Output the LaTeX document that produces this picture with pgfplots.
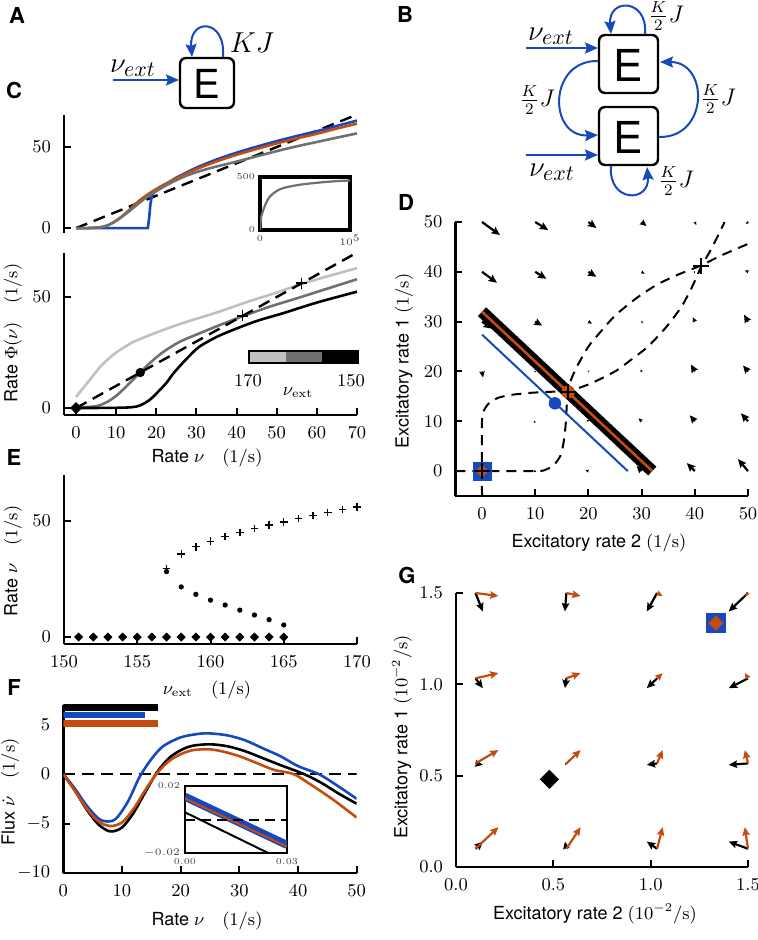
\documentclass[border=0pt]{standalone}
\usepackage{pgfplots}
\pgfplotsset{compat=1.18}
\usepackage{fontspec}
\newfontfamily\hv{TeX Gyre Heros}
\usetikzlibrary{arrows.meta}
\definecolor{mblue}{RGB}{22,72,190}
\definecolor{morange}{RGB}{196,76,14}
\definecolor{lgray}{RGB}{192,192,192}
\definecolor{mgray}{RGB}{112,112,112}
\newcommand{\lbl}{\fontsize{9}{11}\selectfont\hv}
\newcommand{\pl}{\fontsize{11}{13}\selectfont\hv\bfseries}
\pgfplotsset{
  base/.style={
    scale only axis, anchor=south west,
    axis lines*=left,
    axis line style={line width=1.2pt},
    tick align=inside,
    major tick length=3.5pt,
    every tick/.append style={black, line width=1pt},
    tick label style={font=\fontsize{9}{10}\selectfont},
    xticklabel style={yshift=-2.5pt},
    yticklabel style={xshift=-3pt},
    minor tick num=0,
  },
  ins/.style={
    scale only axis, anchor=south west,
    tick style={draw=none}, major tick length=0pt,
    tick label style={font=\fontsize{4.5}{5}\selectfont, text=black!75},
    scaled x ticks=false, scaled y ticks=false,
    axis background/.style={fill=white},
  },
  qv/.style={
    quiver={u=\thisrow{u}, v=\thisrow{v},
      every arrow/.append style={line width=1.1pt*\pgfplotspointmetatransformed/1000}},
    point meta=\thisrow{w}, point meta min=0, point meta max=1,
    -{Stealth[length=0pt 3.8, width=0pt 3.4, inset=0pt 0.6]},
  },
}
\begin{document}
\begin{tikzpicture}
\useasboundingbox (0,0) rectangle (379pt,-470pt);

% ---------------- C top
\begin{axis}[base, at={(32pt,-116.5pt)}, width=146.5pt, height=59.2pt,
  xmin=-3, xmax=70, ymin=-3, ymax=70, axis x line=none, axis y line*=left, ytick={0,50}]
\addplot[black, line width=1.2pt, dash pattern=on 6pt off 3.5pt] coordinates {(0,0) (70,70)};
\addplot[mblue, line width=1.3pt] coordinates {(0,0)(17.9,0)(18.2,6)(18.5,14)(18.8,19)(19.3,21.5)(20,23.2)(21,25)(22.5,27.3)(25,31.2)(27.5,34.3)(30,37.3)(32.5,39.9)(35,42.3)(37.5,44.5)(40,46.5)(43,48.8)(47,51.6)(51,54.3)(55,56.8)(59,59.2)(62,61)(66,63.7)(70,66.3)};
\addplot[morange, line width=1.3pt, smooth] coordinates {(0,0)(3,0.05)(5,0.3)(6.5,0.7)(8,1.8)(9.5,3.8)(11,6.4)(12.5,9.5)(14,13)(15.5,16.4)(17,19.3)(19,22.6)(21,25.6)(23,28.2)(25,30.8)(27.5,33.7)(30,36.4)(33,39.3)(36,42)(40,45.2)(44,48.1)(48,50.9)(52,53.5)(56,55.9)(60,58.2)(65,61.4)(70,64.4)};
\addplot[mgray, line width=1.3pt, smooth] coordinates {(0,0)(3,0.05)(5,0.3)(6.5,0.7)(8,1.8)(9.5,3.8)(11,6.2)(12.5,9)(14,12)(15.5,15)(17,18)(19,21.3)(21,24.3)(23,27.1)(25,29.6)(27.5,32.3)(30,34.5)(33,36.7)(36,38.6)(40,41)(44,43.6)(48,46.2)(52,48.7)(56,51)(60,53.1)(65,55.8)(70,58.4)};
\end{axis}
\begin{axis}[ins, at={(130pt,-115pt)}, width=45pt, height=26.5pt,
  xmin=0, xmax=100000, ymin=0, ymax=500, xtick={0,100000}, xticklabels={0,$10^5$},
  ytick={0,500}, yticklabels={0,500}, axis line style={line width=1.6pt},
  xticklabel style={yshift=1pt}, yticklabel style={xshift=1pt}]
\addplot[mgray, line width=1.1pt, smooth] coordinates {(0,0)(500,60)(1500,130)(3700,190)(7000,260)(11000,316)(18000,365)(26000,396)(44000,427)(65000,447)(82000,459)(100000,467)};
\end{axis}

% ---------------- C bottom
\begin{axis}[base, at={(32pt,-207.35pt)}, width=146.5pt, height=81.05pt,
  xmin=-3, xmax=70, ymin=-3, ymax=70, xtick={0,10,...,70}, ytick={0,50}]
\addplot[lgray, line width=1.3pt, smooth] coordinates {(0,5)(2,9.5)(4,14)(6,18.5)(8,22)(10,25)(14,29.5)(20,34)(27,38.5)(35,43)(43,48)(50,52)(56,55.8)(63,59.5)(70,63)};
\addplot[mgray, line width=1.3pt, smooth] coordinates {(0,0.3)(4,0.6)(6,1.3)(8,3)(10,5.5)(12,8.8)(14,12.4)(16,16)(18,19.6)(20,22.8)(22.4,26.1)(26,30)(30.7,33.6)(36,37.5)(41.5,41.3)(48,45.5)(55.7,49.8)(63,54)(70,58)};
\addplot[black, line width=1.3pt, smooth] coordinates {(0,0)(10,0.1)(14,0.4)(16,1.2)(18.3,3.6)(20,6.5)(22.4,11.1)(24,15)(25.7,18.6)(28,23)(30.7,27.6)(35,32)(39,35.1)(45,39.2)(51.4,42.6)(60,47.5)(70,52.4)};
\addplot[black, line width=1.2pt, dash pattern=on 6pt off 3.5pt] coordinates {(0,0) (70,70)};
\addplot[only marks, mark=square*, mark size=1.9pt, mark options={rotate=45}] coordinates {(0,0)};
\addplot[only marks, mark=*, mark size=2.1pt] coordinates {(16,16)};
\addplot[only marks, mark=+, mark size=2.8pt, mark options={line width=0.8pt}] coordinates {(41.5,41.5)(56.2,56.2)};
\end{axis}

% ---------------- E
\begin{axis}[base, at={(32pt,-322pt)}, width=146.5pt, height=84.7pt,
  xmin=150, xmax=170, ymin=-3, ymax=70, xtick={150,155,...,170}, ytick={0,50}]
\addplot[only marks, mark=square*, mark size=1.4pt, mark options={rotate=45}] coordinates {(151,0)(152,0)(153,0)(154,0)(155,0)(156,0)(157,0)(158,0)(159,0)(160,0)(161,0)(162,0)(163,0)(164,0)(165,0)};
\addplot[only marks, mark=*, mark size=1.1pt] coordinates {(157,28.2)(158,21.6)(159,18.4)(160,15.9)(161,13.8)(162,11.6)(163,9.5)(164,7.5)(165,5.2)};
\addplot[only marks, mark=+, mark size=1.9pt, mark options={line width=0.7pt}] coordinates {(157,29.6)(158,35.8)(159,38.9)(160,41.3)(161,43.3)(162,45.1)(163,46.7)(164,48.2)(165,49.6)(166,51.0)(167,52.3)(168,53.6)(169,54.9)(170,56.1)};
\end{axis}

% ---------------- F
\begin{axis}[base, at={(31.65pt,-436.5pt)}, width=146.7pt, height=84.15pt,
  xmin=0, xmax=50, ymin=-10, ymax=7, xtick={0,10,...,50}, ytick={-10,-5,0,5}]
\addplot[black, line width=3.5pt] coordinates {(0,6.72) (16.1,6.72)};
\addplot[mblue, line width=3.2pt] coordinates {(0,5.96) (13.9,5.96)};
\addplot[morange, line width=3.5pt] coordinates {(0,5.1) (16.1,5.1)};
\addplot[black, line width=1.2pt, dash pattern=on 6pt off 3.5pt] coordinates {(0,0) (50,0)};
\addplot[mblue, line width=1.3pt, smooth] coordinates {(0,0)(2,-1.5)(4,-3.2)(6,-4.5)(7.5,-4.8)(9,-4.5)(11,-2.8)(13,-0.3)(15,1.5)(17,2.8)(20,3.7)(23,4.05)(25,4.1)(28,3.9)(31,3.4)(34,2.6)(37,1.8)(40,0.8)(43.5,0)(46,-0.9)(50,-2.5)};
\addplot[black, line width=1.3pt, smooth] coordinates {(0,0)(2,-1.7)(4,-3.6)(6,-5.1)(8,-5.8)(10,-5.4)(12,-3.9)(14,-1.8)(16,0.2)(18,1.6)(20,2.4)(22,2.85)(25,3.0)(28,2.8)(31,2.3)(34,1.6)(37,0.9)(41,0)(44,-0.9)(47,-2.0)(50,-3.0)};
\addplot[morange, line width=1.3pt, smooth] coordinates {(0,0)(2,-1.7)(4,-3.5)(6,-4.8)(8,-5.25)(10,-4.9)(12,-3.5)(14,-1.6)(16,0.1)(18,1.3)(20,2.0)(22,2.4)(24.7,2.5)(27,2.3)(30,1.8)(33,1.1)(36,0.4)(39.2,0)(42,-1.0)(46,-2.6)(50,-4.4)};
\end{axis}
\begin{axis}[ins, at={(92.5pt,-426.5pt)}, width=51pt, height=33.5pt,
  xmin=0, xmax=0.03, ymin=-0.02, ymax=0.02, xtick={0,0.03}, xticklabels={0.00,0.03},
  ytick={-0.02,0.02}, yticklabels={$-0.02$,0.02}, axis line style={line width=1.3pt},
  xticklabel style={yshift=1pt}, yticklabel style={xshift=1pt}]
\addplot[mblue, line width=4pt] coordinates {(0,0.0136) (0.03,-0.0152)};
\addplot[morange, line width=1pt] coordinates {(0,0.0126) (0.03,-0.0162)};
\addplot[black, line width=1pt] coordinates {(0,0.0043) (0.03,-0.0255)};
\addplot[black, line width=1pt, dash pattern=on 5pt off 3pt] coordinates {(0,0) (0.03,0)};
\end{axis}

% ---------------- D
\begin{axis}[base, at={(227.7pt,-248pt)}, width=146.3pt, height=137pt,
  xmin=-5, xmax=50, ymin=-5, ymax=50, xtick={0,10,...,50}, ytick={0,10,...,50}, clip=false]
\addplot[black, qv] table {
x y u v w
0 50 3.38 -2.61 1
10 50 2.44 -1.61 1
20 50 1.50 -1.20 1
30 50 0.94 -0.80 0.8
40 50 0.28 -0.60 0.4
50 50 -0.38 -0.40 0.35
0 40 2.82 -2.20 1
10 40 2.10 -1.40 1
20 40 1.50 -1.00 1
30 40 0.56 -0.40 0.43
40 40 0.09 0.00 0.15
50 40 -0.56 0.30 0.45
0 30 1.88 -1.41 1
10 30 1.32 -0.80 0.95
20 30 0.66 -0.40 0.48
30 30 0.26 -0.28 0.25
40 30 -0.38 0.90 0.58
50 30 -0.75 1.40 0.95
0 20 0.19 -1.20 0.72
10 20 0.09 -0.20 0.2
20 20 0.19 0.20 0.2
30 20 -0.19 0.40 0.3
40 20 -0.75 1.40 0.95
50 20 -0.94 1.20 0.93
0 10 0.00 -0.40 0.25
10 10 -0.28 -0.30 0.25
20 10 -0.28 0.30 0.25
30 10 -0.56 0.60 0.5
40 10 -0.94 1.20 0.93
50 10 -1.32 1.61 1
10 0 -0.38 0.00 0.25
20 0 -0.56 0.20 0.4
30 0 -0.94 1.00 0.83
40 0 -1.50 1.61 1
50 0 -1.88 2.41 1
};
\addplot[black, line width=1pt, dash pattern=on 5pt off 3.5pt, smooth, tension=0.4] coordinates {(-5,0)(10,0)(12,0.3)(13.5,1.2)(14.7,3)(15.3,5.5)(15.7,9)(15.9,12.5)(16.1,16)(16.8,18.5)(17.8,20.9)(20,25)(22,27.6)(25,31.2)(29,34.7)(33,37.5)(37,39.5)(41,41.2)(45,43.3)(50,45.6)};
\addplot[black, line width=1pt, dash pattern=on 5pt off 3.5pt, smooth, tension=0.4] coordinates {(0,-5)(0,10)(0.3,12)(1.2,13.5)(3,14.7)(5.5,15.3)(9,15.7)(12.5,15.9)(16,16.1)(18.5,16.8)(20.9,17.8)(25,20)(27.6,22)(31.2,25)(34.7,29)(37.5,33)(39.5,37)(41.2,41)(43.3,45)(45.6,50)};
\addplot[black, line width=6pt] coordinates {(0,32) (32,0)};
\addplot[morange, line width=1.3pt] coordinates {(0,32) (32,0)};
\addplot[mblue, line width=1pt] coordinates {(0,27.4) (27.4,0)};
\addplot[only marks, mark=square*, mark size=4.5pt, color=mblue] coordinates {(0,0)};
\addplot[only marks, mark=square*, mark size=2.1pt, mark options={rotate=45}, color=morange] coordinates {(0,0)};
\addplot[only marks, mark=*, mark size=2.9pt, color=mblue] coordinates {(13.7,13.6)};
\addplot[only marks, mark=*, mark size=3.1pt, color=morange] coordinates {(16.2,15.9)};
\addplot[only marks, mark=+, mark size=4pt, mark options={line width=0.8pt}] coordinates {(0,0)(16.2,15.9)(41.2,41.2)};
\end{axis}

% ---------------- G
\begin{axis}[base, at={(228pt,-433.5pt)}, width=146pt, height=137pt,
  xmin=0, xmax=1.5, ymin=0, ymax=1.5, xtick={0,0.5,1,1.5}, ytick={0,0.5,1,1.5},
  xticklabels={$0.0$,$0.5$,$1.0$,$1.5$}, yticklabels={$0.0$,$0.5$,$1.0$,$1.5$}, clip=false]
\addplot[black, qv] table {
x y u v w
0.1 1.5 0.038 -0.101 1
0.567 1.5 -0.0075 -0.101 1
1.033 1.5 -0.053 -0.101 1
1.5 1.5 -0.099 -0.101 1
0.1 1.033 0.038 -0.054 1
0.567 1.033 -0.0075 -0.054 1
1.033 1.033 -0.053 -0.054 1
1.5 1.033 -0.099 -0.054 1
0.1 0.567 0.038 -0.0077 0.9
0.567 0.567 -0.0075 -0.0077 0.25
1.033 0.567 -0.053 -0.0077 1
1.5 0.567 -0.099 -0.0077 1
0.1 0.1 0.038 0.039 1
0.567 0.1 -0.0075 0.039 0.87
1.033 0.1 -0.053 0.039 1
1.5 0.1 -0.099 0.039 1
};
\addplot[morange, qv] table {
x y u v w
0.1 1.5 0.118 -0.0163 1
0.567 1.5 0.0732 -0.0163 1
1.033 1.5 0.0285 -0.0163 0.75
1.5 1.5 -0.0163 -0.0163 0.52
0.1 1.033 0.118 0.0285 1
0.567 1.033 0.0732 0.0285 1
1.033 1.033 0.0285 0.0285 0.9
1.5 1.033 -0.0163 0.0285 0.73
0.1 0.567 0.118 0.0732 1
0.567 0.567 0.0732 0.0732 1
1.033 0.567 0.0285 0.0732 1
1.5 0.567 -0.0163 0.0732 1
0.1 0.1 0.118 0.118 1
0.567 0.1 0.0732 0.118 1
1.033 0.1 0.0285 0.118 1
1.5 0.1 -0.0163 0.118 1
};
\addplot[only marks, mark=square*, mark size=4.75pt, color=mblue] coordinates {(1.335,1.335)};
\addplot[only marks, mark=square*, mark size=2.5pt, mark options={rotate=45}, color=morange] coordinates {(1.335,1.335)};
\addplot[only marks, mark=square*, mark size=3.2pt, mark options={rotate=45}, color=black] coordinates {(0.48,0.48)};
\end{axis}

% ---------------- text, labels and diagrams (pixel coordinates)
\begin{scope}[x=0.5pt,y=-0.5pt]
\node[font=\pl] at (17,15) {A};
\node[font=\pl] at (405,14) {B};
\node[font=\pl] at (14,90) {C};
\node[font=\pl] at (406,202) {D};
\node[font=\pl] at (14,457) {E};
\node[font=\pl] at (14,687) {F};
\node[font=\pl] at (407,575) {G};
\node[font=\lbl] at (207,458) {Rate $\nu$\quad$(1/\mathrm{s})$};
\node[font=\lbl, rotate=90] at (13,333) {Rate $\Phi(\nu)$\quad$(1/\mathrm{s})$};
\node[font=\lbl, rotate=90] at (13,561) {Rate $\nu$\quad$(1/\mathrm{s})$};
\node[font=\lbl] at (207,690) {$\nu_{\mathrm{ext}}$\quad$(1/\mathrm{s})$};
\node[font=\lbl, rotate=90] at (10,792) {Flux $\dot{\nu}$\quad$(1/\mathrm{s})$};
\node[font=\lbl] at (207,921) {Rate $\nu$\quad$(1/\mathrm{s})$};
\node[font=\lbl, rotate=90] at (404,361) {Excitatory rate 1 $(1/\mathrm{s})$};
\node[font=\lbl] at (599,543) {Excitatory rate 2 $(1/\mathrm{s})$};
\node[font=\lbl, rotate=90] at (402,737) {Excitatory rate 1 $(10^{-2}/\mathrm{s})$};
\node[font=\lbl] at (595,914) {Excitatory rate 2 $(10^{-2}/\mathrm{s})$};
\fill[lgray] (249,351) rectangle (285.5,363);
\fill[mgray] (285.5,351) rectangle (322,363);
\fill[black] (322,351) rectangle (358,363);
\draw[line width=1pt] (249,351) rectangle (358,363);
\node[font=\fontsize{9}{10}\selectfont] at (248,381) {$170$};
\node[font=\fontsize{9}{10}\selectfont] at (351,381) {$150$};
\node[font=\fontsize{9}{10}\selectfont] at (298,393) {$\nu_{\mathrm{ext}}$};
% diagram A
\draw[line width=1.2pt, rounded corners=3pt] (180,58) rectangle (234,108);
\node[font=\fontsize{20}{22}\selectfont\hv] at (207,84) {E};
\draw[mblue, line width=1pt, -{Stealth[length=6.5pt,width=5.5pt,inset=1pt]}] (113,80) -- (179,80);
\node[font=\fontsize{15}{17}\selectfont] at (133,68) {$\nu_{ext}$};
\draw[mblue, line width=1pt, -{Stealth[length=6.5pt,width=5.5pt,inset=1pt]}] (223,57) .. controls (226,18) and (189,18) .. (192,57);
\node[font=\fontsize{15}{17}\selectfont] at (252,43) {$KJ$};
% diagram B
\draw[line width=1.2pt, rounded corners=3pt] (599,35) rectangle (658,93);
\draw[line width=1.2pt, rounded corners=3pt] (599,107) rectangle (658,165);
\node[font=\fontsize{22}{24}\selectfont\hv] at (628.5,65) {E};
\node[font=\fontsize{22}{24}\selectfont\hv] at (628.5,137) {E};
\draw[mblue, line width=1pt, -{Stealth[length=6.5pt,width=5.5pt,inset=1pt]}] (526,48) -- (598,48);
\node[font=\fontsize{15}{17}\selectfont] at (551,36) {$\nu_{ext}$};
\draw[mblue, line width=1pt, -{Stealth[length=6.5pt,width=5.5pt,inset=1pt]}] (526,155) -- (598,155);
\node[font=\fontsize{15}{17}\selectfont] at (552,172) {$\nu_{ext}$};
\draw[mblue, line width=1pt, -{Stealth[length=6.5pt,width=5.5pt,inset=1pt]}] (645,34) .. controls (648,-2) and (608,-2) .. (611,34);
\node[font=\fontsize{12}{14}\selectfont] at (666,16) {$\frac{K}{2}J$};
\draw[mblue, line width=1pt, -{Stealth[length=6.5pt,width=5.5pt,inset=1pt]}] (611,166) .. controls (608,203) and (650,203) .. (647,167);
\node[font=\fontsize{12}{14}\selectfont] at (676,181) {$\frac{K}{2}J$};
\draw[mblue, line width=1pt, -{Stealth[length=6.5pt,width=5.5pt,inset=1pt]}] (598,61) .. controls (548,60) and (548,137) .. (598,135);
\node[font=\fontsize{12}{14}\selectfont] at (537,100) {$\frac{K}{2}J$};
\draw[mblue, line width=1pt, -{Stealth[length=6.5pt,width=5.5pt,inset=1pt]}] (659,137) .. controls (709,138) and (709,62) .. (660,62);
\node[font=\fontsize{12}{14}\selectfont] at (718,99) {$\frac{K}{2}J$};
\end{scope}
\end{tikzpicture}
\end{document}
